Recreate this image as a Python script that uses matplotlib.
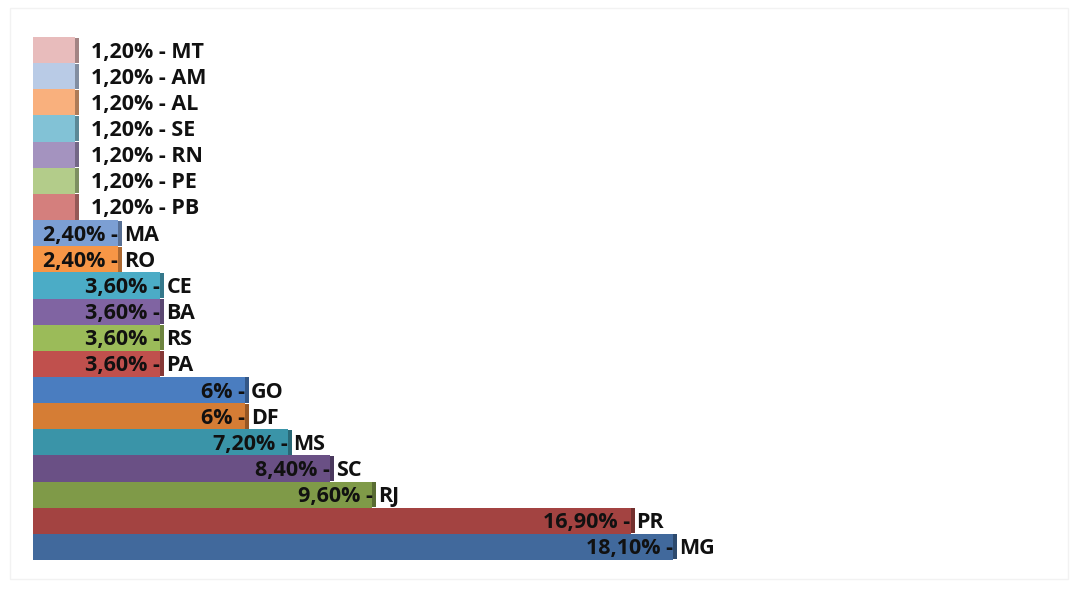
import matplotlib
matplotlib.use("Agg")
import matplotlib.pyplot as plt
from matplotlib.colors import to_rgb
from matplotlib.patches import Rectangle

# Data (bottom to top)
states = ["MG", "PR", "RJ", "SC", "MS", "DF", "GO", "PA", "RS", "BA", "CE",
          "RO", "MA", "PB", "PE", "RN", "SE", "AL", "AM", "MT"]
values = [18.10, 16.90, 9.60, 8.40, 7.20, 6.0, 6.0, 3.60, 3.60, 3.60, 3.60,
          2.40, 2.40, 1.20, 1.20, 1.20, 1.20, 1.20, 1.20, 1.20]
value_labels = ["18,10%", "16,90%", "9,60%", "8,40%", "7,20%", "6%", "6%",
                "3,60%", "3,60%", "3,60%", "3,60%", "2,40%", "2,40%",
                "1,20%", "1,20%", "1,20%", "1,20%", "1,20%", "1,20%", "1,20%"]
colors = ["#41699C", "#A34341", "#7F9A48", "#6A5085", "#3A94A8", "#D57D35",
          "#4A7DC0", "#C0504D", "#9BBB59", "#8064A2", "#4BACC6", "#F79646",
          "#7C9FD3", "#D47F7D", "#B3CC8A", "#A493BF", "#82C2D6", "#F9B07D",
          "#B9CBE6", "#E8BCBC"]

def darker(c, f=0.7):
    r, g, b = to_rgb(c)
    return (r * f, g * f, b * f)

W, H = 1080, 589
fig = plt.figure(figsize=(W / 100, H / 100), dpi=100)
fig.patch.set_facecolor("white")
fig.add_artist(Rectangle((10 / W, 10 / H), 1058 / W, 571 / H, transform=fig.transFigure,
                         fill=False, edgecolor="#F2F2F2", linewidth=1))

ax = fig.add_axes([33 / W, 29 / H, 1000 / W, 523 / H])
px_per_unit = 35.36
ax.set_xlim(0, 1000 / px_per_unit)
n = len(values)
ax.set_ylim(-0.5, n - 0.5)

ys = list(range(n))
side = 4 / px_per_unit
ax.barh(ys, values, height=1.0, color=colors, edgecolor="none", zorder=2)
ax.barh(ys, [side] * n, left=values, height=0.96, color=[darker(c) for c in colors],
        edgecolor="none", zorder=2)

PT = 0.72  # points per pixel at 100 dpi
dy = -2 * PT
font = dict(family=["Open Sans", "DejaVu Sans"], fontsize=15.5, fontweight="bold",
            color="#111111")
for y, v, vl, st in zip(ys, values, value_labels, states):
    if v < 2:
        ax.annotate(f"{vl} - {st}", xy=(v, y), xytext=(16 * PT, dy), textcoords="offset points",
                    ha="left", va="center", zorder=3, **font)
    else:
        ax.annotate(f"{vl} -", xy=(v, y), xytext=(0, dy), textcoords="offset points",
                    ha="right", va="center", zorder=3, **font)
        ax.annotate(st, xy=(v, y), xytext=(6 * PT, dy), textcoords="offset points",
                    ha="left", va="center", zorder=3, **font)

ax.axis("off")
fig.savefig("out.png", dpi=100, facecolor="white")
